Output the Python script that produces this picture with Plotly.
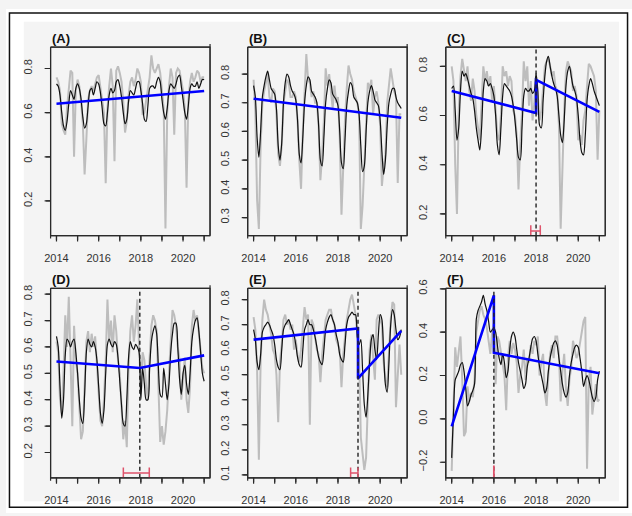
import plotly.graph_objects as go

# ---------------- DATA (monthly, 2014.0 .. 2021.0) ----------------
A_black = [0.73, 0.72, 0.68, 0.60, 0.54, 0.52, 0.56, 0.64, 0.70, 0.68, 0.66, 0.71,
           0.73, 0.71, 0.66, 0.58, 0.53, 0.55, 0.63, 0.70, 0.71, 0.68, 0.71, 0.74,
           0.73, 0.69, 0.62, 0.55, 0.54, 0.60, 0.68, 0.71, 0.69, 0.70, 0.74, 0.75,
           0.72, 0.67, 0.60, 0.55, 0.57, 0.65, 0.70, 0.69, 0.68, 0.71, 0.74, 0.74,
           0.70, 0.64, 0.57, 0.56, 0.63, 0.71, 0.72, 0.72, 0.71, 0.74, 0.76, 0.74,
           0.66, 0.60, 0.57, 0.62, 0.70, 0.73, 0.72, 0.71, 0.73, 0.76, 0.77, 0.72,
           0.66, 0.60, 0.57, 0.63, 0.71, 0.73, 0.72, 0.72, 0.74, 0.71, 0.73, 0.75,
           0.75]
A_gray = [0.76, 0.74, 0.70, 0.55, 0.52, 0.50, 0.62, 0.70, 0.79, 0.78, 0.40, 0.70,
          0.75, 0.72, 0.65, 0.55, 0.32, 0.48, 0.66, 0.70, 0.72, 0.70, 0.73, 0.76,
          0.77, 0.72, 0.65, 0.60, 0.28, 0.62, 0.72, 0.80, 0.72, 0.38, 0.79, 0.81,
          0.78, 0.74, 0.65, 0.51, 0.56, 0.68, 0.74, 0.76, 0.72, 0.75, 0.80, 0.78,
          0.74, 0.59, 0.60, 0.66, 0.70, 0.76, 0.86, 0.80, 0.78, 0.80, 0.82, 0.78,
          0.70, 0.62, 0.075, 0.60, 0.72, 0.80, 0.76, 0.50, 0.78, 0.80, 0.79, 0.74,
          0.70, 0.62, 0.26, 0.65, 0.74, 0.78, 0.74, 0.76, 0.79, 0.78, 0.74, 0.76,
          0.76]
B_black = [0.76, 0.72, 0.58, 0.51, 0.60, 0.72, 0.76, 0.79, 0.81, 0.78, 0.75, 0.74,
           0.73, 0.68, 0.55, 0.50, 0.56, 0.70, 0.77, 0.80, 0.79, 0.76, 0.74, 0.73,
           0.71, 0.64, 0.52, 0.49, 0.58, 0.70, 0.76, 0.79, 0.78, 0.74, 0.73, 0.72,
           0.70, 0.62, 0.50, 0.48, 0.58, 0.70, 0.75, 0.78, 0.77, 0.73, 0.72, 0.71,
           0.69, 0.60, 0.49, 0.47, 0.57, 0.69, 0.74, 0.77, 0.76, 0.72, 0.71, 0.70,
           0.66, 0.55, 0.46, 0.48, 0.60, 0.70, 0.74, 0.76, 0.74, 0.71, 0.70, 0.69,
           0.64, 0.53, 0.45, 0.50, 0.62, 0.70, 0.73, 0.75, 0.75, 0.72, 0.70, 0.69,
           0.68]
B_gray = [0.78, 0.67, 0.36, 0.26, 0.55, 0.70, 0.74, 0.77, 0.80, 0.72, 0.70, 0.75,
          0.74, 0.66, 0.52, 0.48, 0.55, 0.70, 0.75, 0.78, 0.77, 0.72, 0.72, 0.74,
          0.72, 0.64, 0.50, 0.40, 0.60, 0.76, 0.87, 0.78, 0.77, 0.72, 0.74, 0.70,
          0.70, 0.62, 0.43, 0.52, 0.64, 0.82, 0.76, 0.80, 0.74, 0.68, 0.76, 0.70,
          0.72, 0.58, 0.31, 0.50, 0.64, 0.75, 0.83, 0.80, 0.78, 0.74, 0.72, 0.70,
          0.66, 0.26, 0.34, 0.50, 0.62, 0.77, 0.75, 0.78, 0.66, 0.72, 0.74, 0.70,
          0.62, 0.41, 0.48, 0.52, 0.70, 0.76, 0.82, 0.78, 0.74, 0.72, 0.42, 0.66,
          0.66]
C_black = [0.71, 0.72, 0.62, 0.50, 0.55, 0.70, 0.78, 0.76, 0.77, 0.75, 0.72, 0.69,
           0.67, 0.62, 0.55, 0.50, 0.46, 0.55, 0.70, 0.75, 0.74, 0.72, 0.73, 0.71,
           0.68, 0.60, 0.48, 0.44, 0.55, 0.68, 0.73, 0.72, 0.71, 0.70, 0.68, 0.64,
           0.58, 0.50, 0.43, 0.42, 0.55, 0.68, 0.71, 0.70, 0.70, 0.71, 0.69, 0.70,
           0.77, 0.70, 0.56, 0.55, 0.66, 0.76, 0.82, 0.84, 0.80, 0.76, 0.73, 0.71,
           0.68, 0.60, 0.52, 0.49, 0.58, 0.72, 0.78, 0.80, 0.76, 0.72, 0.70, 0.67,
           0.60, 0.50, 0.45, 0.44, 0.52, 0.66, 0.72, 0.75, 0.73, 0.70, 0.68, 0.66,
           0.64]
C_gray = [0.80, 0.74, 0.40, 0.20, 0.62, 0.76, 0.83, 0.78, 0.74, 0.80, 0.70, 0.66,
          0.75, 0.70, 0.60, 0.55, 0.50, 0.65, 0.80, 0.74, 0.78, 0.72, 0.76, 0.66,
          0.72, 0.62, 0.52, 0.50, 0.60, 0.80, 0.76, 0.78, 0.72, 0.76, 0.74, 0.62,
          0.60, 0.52, 0.30, 0.48, 0.62, 0.82, 0.74, 0.80, 0.64, 0.74, 0.58, 0.65,
          0.76, 0.68, 0.58, 0.62, 0.70, 0.80, 0.82, 0.83, 0.80, 0.76, 0.78, 0.72,
          0.70, 0.56, 0.14, 0.40, 0.62, 0.78, 0.82, 0.80, 0.78, 0.70, 0.72, 0.68,
          0.50, 0.52, 0.48, 0.58, 0.62, 0.72, 0.81, 0.80, 0.78, 0.76, 0.70, 0.42,
          0.62]
D_black = [0.64, 0.60, 0.45, 0.33, 0.40, 0.57, 0.63, 0.62, 0.60, 0.62, 0.63, 0.58,
           0.50, 0.40, 0.33, 0.31, 0.42, 0.58, 0.63, 0.61, 0.60, 0.62, 0.60, 0.55,
           0.45, 0.35, 0.31, 0.36, 0.50, 0.61, 0.63, 0.61, 0.60, 0.62, 0.61, 0.56,
           0.47, 0.38, 0.31, 0.30, 0.40, 0.56, 0.62, 0.60, 0.59, 0.61, 0.60, 0.58,
           0.40, 0.52, 0.46, 0.40, 0.40, 0.52, 0.62, 0.66, 0.68, 0.65, 0.52, 0.42,
           0.41, 0.52, 0.46, 0.40, 0.46, 0.58, 0.65, 0.69, 0.69, 0.60, 0.48, 0.42,
           0.50, 0.53, 0.46, 0.42, 0.50, 0.62, 0.67, 0.70, 0.71, 0.66, 0.58, 0.50,
           0.47]
D_gray = [0.62, 0.58, 0.40, 0.35, 0.50, 0.72, 0.60, 0.79, 0.55, 0.30, 0.68, 0.55,
          0.50, 0.36, 0.25, 0.28, 0.45, 0.62, 0.66, 0.58, 0.65, 0.60, 0.64, 0.52,
          0.45, 0.32, 0.30, 0.40, 0.55, 0.78, 0.62, 0.70, 0.58, 0.72, 0.66, 0.55,
          0.50, 0.35, 0.25, 0.32, 0.22, 0.52, 0.66, 0.72, 0.62, 0.68, 0.78, 0.60,
          0.45, 0.58, 0.55, 0.45, 0.40, 0.56, 0.68, 0.72, 0.70, 0.66, 0.48, 0.24,
          0.30, 0.23, 0.28, 0.36, 0.50, 0.60, 0.74, 0.72, 0.68, 0.60, 0.55, 0.40,
          0.48, 0.56, 0.40, 0.35, 0.45, 0.68, 0.74, 0.70, 0.72, 0.66, 0.60, 0.52,
          0.50]
E_black = [0.68, 0.64, 0.55, 0.52, 0.58, 0.67, 0.69, 0.70, 0.71, 0.70, 0.68, 0.66,
           0.62, 0.56, 0.53, 0.52, 0.60, 0.68, 0.70, 0.71, 0.72, 0.70, 0.68, 0.66,
           0.62, 0.57, 0.54, 0.53, 0.60, 0.68, 0.70, 0.72, 0.70, 0.70, 0.68, 0.65,
           0.61, 0.57, 0.55, 0.54, 0.60, 0.68, 0.71, 0.73, 0.74, 0.72, 0.70, 0.66,
           0.63, 0.58, 0.56, 0.55, 0.62, 0.70, 0.73, 0.74, 0.75, 0.74, 0.74, 0.65,
           0.62, 0.64, 0.52, 0.38, 0.33, 0.42, 0.55, 0.64, 0.66, 0.60, 0.56, 0.66,
           0.74, 0.72, 0.58, 0.46, 0.43, 0.55, 0.70, 0.76, 0.74, 0.68, 0.64, 0.65,
           0.68]
E_gray = [0.73, 0.68, 0.52, 0.16, 0.55, 0.72, 0.80, 0.76, 0.74, 0.70, 0.66, 0.60,
          0.58, 0.50, 0.31, 0.55, 0.62, 0.72, 0.74, 0.70, 0.72, 0.68, 0.70, 0.60,
          0.64, 0.58, 0.55, 0.60, 0.70, 0.77, 0.72, 0.74, 0.30, 0.72, 0.70, 0.65,
          0.60, 0.58, 0.47, 0.58, 0.66, 0.72, 0.74, 0.76, 0.76, 0.72, 0.70, 0.64,
          0.62, 0.60, 0.45, 0.58, 0.65, 0.72, 0.76, 0.80, 0.82, 0.78, 0.74, 0.66,
          0.58, 0.25, 0.18, 0.12, 0.17, 0.40, 0.60, 0.66, 0.58, 0.48, 0.72, 0.74,
          0.72, 0.70, 0.55, 0.48, 0.45, 0.60, 0.72, 0.79, 0.78, 0.37, 0.50, 0.62,
          0.50]
F_black = [-0.18, 0.02, 0.18, 0.20, 0.22, 0.25, 0.26, 0.22, 0.14, 0.06, 0.08, 0.11,
           0.13, 0.16, 0.46, 0.50, 0.52, 0.54, 0.57, 0.53, 0.50, 0.45, 0.40, 0.41,
           0.42, 0.40, 0.34, 0.28, 0.25, 0.30, 0.26, 0.19, 0.22, 0.32, 0.38, 0.40,
           0.38, 0.32, 0.26, 0.22, 0.18, 0.14, 0.16, 0.24, 0.28, 0.33, 0.37, 0.38,
           0.36, 0.30, 0.24, 0.20, 0.16, 0.12, 0.14, 0.22, 0.28, 0.32, 0.35, 0.36,
           0.34, 0.28, 0.22, 0.16, 0.12, 0.10, 0.12, 0.20, 0.26, 0.30, 0.33, 0.34,
           0.33, 0.28, 0.22, 0.15, 0.18, 0.20, 0.18, 0.14, 0.10, 0.08, 0.10, 0.18,
           0.22]
F_gray = [-0.24, 0.10, 0.33, 0.24, 0.30, 0.38, 0.18, -0.08, -0.06, 0.15, 0.08, 0.12,
          0.10, 0.18, 0.40, 0.45, 0.50, 0.52, 0.48, 0.46, 0.42, 0.36, 0.30, 0.40,
          0.44, 0.16, 0.38, 0.36, 0.30, 0.26, 0.20, 0.04, 0.28, 0.36, 0.30, 0.35,
          0.32, 0.26, 0.12, 0.20, 0.24, 0.32, 0.18, 0.28, 0.26, 0.34, 0.30, 0.36,
          0.34, 0.38, 0.20, 0.26, 0.30, 0.12, 0.06, 0.20, 0.30, 0.34, 0.28, 0.38,
          0.38, 0.30, 0.08, 0.22, 0.30, 0.14, 0.06, 0.18, 0.24, 0.36, 0.32, 0.28,
          0.30, 0.35, 0.42, 0.45, 0.47, -0.23, 0.18, 0.24, 0.02, 0.10, 0.16, 0.08,
          0.09]

# trend segments (x, y)
A_trend_x = [2014, 2021];                 A_trend_y = [0.640, 0.698]
B_trend_x = [2014, 2021];                 B_trend_y = [0.714, 0.648]
C_trend_x = [2014, 2018, 2018, 2021];     C_trend_y = [0.700, 0.610, 0.745, 0.615]
D_trend_x = [2014, 2017.95, 2021];        D_trend_y = [0.545, 0.520, 0.568]
E_trend_x = [2014, 2018.95, 2018.95, 2021]; E_trend_y = [0.640, 0.685, 0.485, 0.675]
F_trend_x = [2014, 2016, 2016, 2021];     F_trend_y = [-0.035, 0.570, 0.305, 0.210]

# breakpoints and confidence intervals
breaks = {"C": 2018.0, "D": 2017.95, "E": 2018.95, "F": 2016.0}
ci = {"C": (2017.75, 2018.2), "D": (2017.17, 2018.4), "E": (2018.6, 2018.95), "F": (2016.0, 2016.0)}

labels = ["(A)", "(B)", "(C)", "(D)", "(E)", "(F)"]
year_ticks = [2014, 2015, 2016, 2017, 2018, 2019, 2020, 2021]
year_text = ["2014", "", "2016", "", "2018", "", "2020", ""]
y_ticks = {
    "A": [0.2, 0.4, 0.6, 0.8],
    "B": [0.3, 0.4, 0.5, 0.6, 0.7, 0.8],
    "C": [0.2, 0.4, 0.6, 0.8],
    "D": [0.2, 0.3, 0.4, 0.5, 0.6, 0.7, 0.8],
    "E": [0.1, 0.2, 0.3, 0.4, 0.5, 0.6, 0.7, 0.8],
    "F": [-0.2, 0.0, 0.2, 0.4, 0.6],
}
y_ranges = {
    "A": [0.043, 0.897], "B": [0.237, 0.894], "C": [0.112, 0.878],
    "D": [0.104, 0.822], "E": [0.088, 0.845], "F": [-0.272, 0.602],
}
x_range = [2013.72, 2021.28]

t = [2014 + i / 12 for i in range(85)]

series = {
    "A": (A_gray, A_black, A_trend_x, A_trend_y),
    "B": (B_gray, B_black, B_trend_x, B_trend_y),
    "C": (C_gray, C_black, C_trend_x, C_trend_y),
    "D": (D_gray, D_black, D_trend_x, D_trend_y),
    "E": (E_gray, E_black, E_trend_x, E_trend_y),
    "F": (F_gray, F_black, F_trend_x, F_trend_y),
}

# ---------------- LAYOUT (pixels) ----------------
W, H = 632, 516
cols = [(45, 206), (244, 405), (444, 605)]
rows = [(39, 232), (286, 480)]
BG = "#f4f4f4"
AXC = "#2a2a2a"
TICK = 6
M = 10   # margin of the overlay frame subplot (px)

fig = go.Figure()
layout = dict(
    width=W, height=H, autosize=False,
    margin=dict(l=0, r=0, t=0, b=0),
    paper_bgcolor=BG, plot_bgcolor="rgba(0,0,0,0)",
    showlegend=False, annotations=[], hovermode=False,
)

tickfont = dict(family="Liberation Sans, Arial, sans-serif", size=11, color="#333333")
red = "#DF536B"
mark_shapes = []
frame_traces = []
seg_annotations = []

def seg(pxa, pya, pxb, pyb):
    # a plain line segment drawn as a head-less annotation arrow (pixel coordinates)
    return dict(xref="paper", yref="paper", x=pxb / W, y=1 - pyb / H,
                axref="pixel", ayref="pixel", ax=pxa - pxb, ay=pya - pyb,
                text="", showarrow=True, arrowhead=0, arrowwidth=1.2,
                arrowcolor=AXC, standoff=0, startstandoff=0)

for k, key in enumerate(["A", "B", "C", "D", "E", "F"]):
    r, c = divmod(k, 3)
    x0, x1 = cols[c]
    y0, y1 = rows[r]
    n = k + 1
    xa = "x" if n == 1 else f"x{n}"
    ya = "y" if n == 1 else f"y{n}"
    xname = "xaxis" if n == 1 else f"xaxis{n}"
    yname = "yaxis" if n == 1 else f"yaxis{n}"
    layout[xname] = dict(
        domain=[x0 / W, x1 / W], range=x_range, anchor=ya,
        tickvals=year_ticks, ticktext=year_text, ticks="outside", ticklen=TICK,
        tickcolor="rgba(0,0,0,0)", tickfont=tickfont,
        showline=False, showgrid=False, zeroline=False, ticklabelstandoff=6,
    )
    layout[yname] = dict(
        domain=[1 - y1 / H, 1 - y0 / H], range=y_ranges[key], anchor=xa,
        tickvals=y_ticks[key], tickformat=".1f", ticks="outside", ticklen=TICK,
        tickcolor="rgba(0,0,0,0)", tickfont=tickfont, tickangle=-90,
        showline=False, showgrid=False, zeroline=False, ticklabelstandoff=7,
    )
    gray, black, tx, ty = series[key]
    fig.add_trace(go.Scatter(x=t, y=gray, mode="lines", xaxis=xa, yaxis=ya,
                             line=dict(color="#bdbdbd", width=2)))
    fig.add_trace(go.Scatter(x=t, y=black, mode="lines", xaxis=xa, yaxis=ya,
                             line=dict(color="#111111", width=1.2, shape="spline", smoothing=0.8)))
    fig.add_trace(go.Scatter(x=tx, y=ty, mode="lines", xaxis=xa, yaxis=ya,
                             line=dict(color="#0000ff", width=2.6)))

    # frame + ticks: overlay pixel-unit subplot trace and annotation segments
    m = n + 6
    fx, fy = f"x{m}", f"y{m}"
    layout[f"xaxis{m}"] = dict(domain=[(x0 - M) / W, (x1 + M) / W], range=[x0 - M, x1 + M],
                               anchor=fy, visible=False, fixedrange=True)
    layout[f"yaxis{m}"] = dict(domain=[1 - (y1 + M) / H, 1 - (y0 - M) / H],
                               range=[-(y1 + M), -(y0 - M)], anchor=fx,
                               visible=False, fixedrange=True)
    px_list = [x0, x1, x1, x0, x0, None]
    py_list = [-y0, -y0, -y1, -y1, -y0, None]
    seg_annotations += [seg(x0, y0, x1, y0), seg(x1, y0, x1, y1),
                        seg(x1, y1, x0, y1), seg(x0, y1, x0, y0)]
    for v in year_ticks:
        px = x0 + (v - x_range[0]) / (x_range[1] - x_range[0]) * (x1 - x0)
        px_list += [px, px, None]
        py_list += [-y1, -(y1 + TICK), None]
        seg_annotations.append(seg(px, y1 + TICK, px, y1))
    yr0, yr1 = y_ranges[key]
    for v in y_ticks[key]:
        py = y1 - (v - yr0) / (yr1 - yr0) * (y1 - y0)
        px_list += [x0 - TICK, x0, None]
        py_list += [-py, -py, None]
        seg_annotations.append(seg(x0 - TICK, py, x0, py))
    frame_traces.append(go.Scatter(x=px_list, y=py_list, mode="lines", xaxis=fx, yaxis=fy,
                                   line=dict(color=AXC, width=1.2), connectgaps=False,
                                   hoverinfo="skip"))

    if key in breaks:
        b = breaks[key]
        mark_shapes.append(dict(type="line", xref=xa, yref=f"{ya} domain",
                                x0=b, x1=b, y0=0, y1=1,
                                line=dict(color="#222222", width=1.4, dash="4px,3px")))
        lo, hi = ci[key]
        if hi > lo:
            mark_shapes.append(dict(type="line", xref=xa, yref=f"{ya} domain",
                                    x0=lo, x1=hi, y0=0.025, y1=0.025,
                                    line=dict(color=red, width=1.5)))
            for xv in (lo, hi):
                mark_shapes.append(dict(type="line", xref=xa, yref=f"{ya} domain",
                                        x0=xv, x1=xv, y0=0.0, y1=0.055,
                                        line=dict(color=red, width=1.5)))
        else:
            mark_shapes.append(dict(type="line", xref=xa, yref=f"{ya} domain",
                                    x0=lo, x1=lo, y0=0.0, y1=0.065,
                                    line=dict(color=red, width=1.8)))
    layout["annotations"].append(dict(
        text=f"<b>{labels[k]}</b>", xref="paper", yref="paper",
        x=(x0 - 1) / W, y=1 - (y0 - 9) / H, xanchor="left", yanchor="middle",
        showarrow=False, font=dict(family="Liberation Sans, Arial, sans-serif", size=13, color="#111111"),
    ))

for tr in frame_traces:
    fig.add_trace(tr)

layout["annotations"] += seg_annotations

# white strips around the gray panel + black outer border
def strip(px0, py0, px1, py1):
    return dict(type="rect", xref="paper", yref="paper", x0=px0 / W, x1=px1 / W,
                y0=1 - py1 / H, y1=1 - py0 / H, fillcolor="white", line=dict(width=0), layer="below")

layout["shapes"] = [
    strip(0, 0, W, 13), strip(0, 504, W, H), strip(0, 0, 18, H), strip(619, 0, W, H),
    dict(type="rect", xref="paper", yref="paper", x0=3.5 / W, x1=627.5 / W,
         y0=1 - 510 / H, y1=1 - 4 / H, line=dict(color="#111111", width=1.5), layer="above"),
] + mark_shapes

fig.update_layout(**layout)
fig.write_html("out.html", config={"displayModeBar": False},
               post_script="document.body.style.margin='0';")
